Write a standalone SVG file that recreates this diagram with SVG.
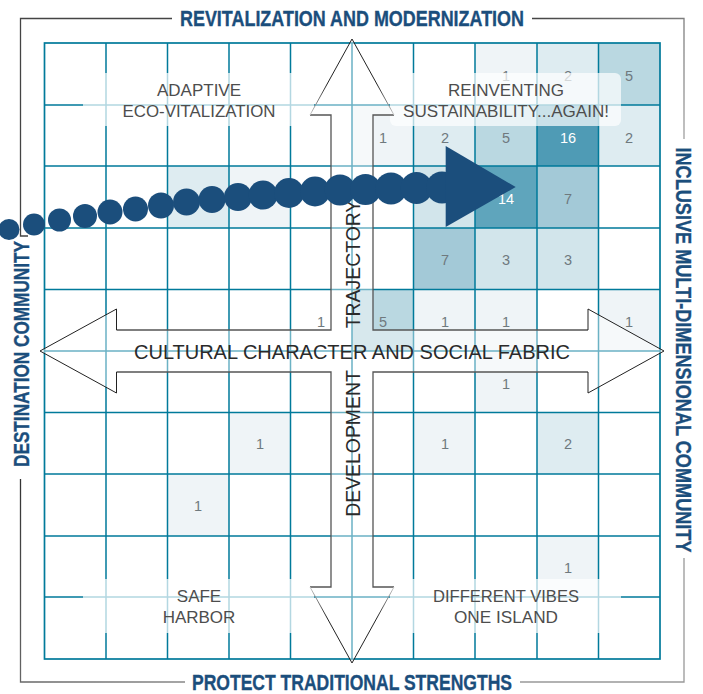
<svg xmlns="http://www.w3.org/2000/svg" width="703" height="694" viewBox="0 0 703 694">
<style>
text{font-family:"Liberation Sans",Arial,sans-serif}
.n{font-size:14.5px;fill:#6f797e;text-anchor:middle}
.w{fill:#fff}
.q{font-size:17px;fill:#4d4d4d;text-anchor:middle}
.h{font-family:"Liberation Sans Narrow","Liberation Sans",Arial,sans-serif;font-weight:bold;font-size:22.500px;fill:#1b4e7c;stroke:#1b4e7c;stroke-width:.35;text-anchor:middle}
.ax{font-size:19.800px;fill:#2a2a2a;text-anchor:middle}
.g{stroke:#007a9a;stroke-width:1.5;fill:none}
.f{fill:none;stroke-width:1.3}
.a{fill:none;stroke:#555;stroke-width:1.3}
.e{fill:none;stroke-width:1}
.c1{fill:#eff4f7}.c2{fill:#deecf1}.c3{fill:#d2e5eb}.c5{fill:#bad8e1}.c7{fill:#a3c9d7}.c14{fill:#5fa5bc}.c16{fill:#4f9bb5}
.b{fill:#fff;opacity:.7}
.d{fill:#1b4e7c}
</style>
<defs>
<linearGradient id="gTR" gradientUnits="userSpaceOnUse" x1="532" y1="18" x2="684" y2="139"><stop offset="0" stop-color="#444"/><stop offset="1" stop-color="#a0a0a0"/></linearGradient>
<linearGradient id="gBL" gradientUnits="userSpaceOnUse" x1="20" y1="479" x2="185" y2="682"><stop offset="0" stop-color="#333"/><stop offset="1" stop-color="#888"/></linearGradient>
<linearGradient id="e1" gradientUnits="userSpaceOnUse" x1="352" y1="39" x2="394" y2="115"><stop offset=".6" stop-color="#222"/><stop offset="1" stop-color="#ccc"/></linearGradient>
<linearGradient id="e2" gradientUnits="userSpaceOnUse" x1="352" y1="39" x2="310" y2="115"><stop offset=".6" stop-color="#222"/><stop offset="1" stop-color="#ccc"/></linearGradient>
<linearGradient id="e3" gradientUnits="userSpaceOnUse" x1="352" y1="663" x2="394" y2="587"><stop offset=".6" stop-color="#222"/><stop offset="1" stop-color="#ccc"/></linearGradient>
<linearGradient id="e4" gradientUnits="userSpaceOnUse" x1="352" y1="663" x2="310" y2="587"><stop offset=".6" stop-color="#222"/><stop offset="1" stop-color="#ccc"/></linearGradient>
</defs>

<g id="cells">
<rect class="c1" x="475" y="43" width="62" height="62"/>
<rect class="c2" x="537" y="43" width="61.500" height="62"/>
<rect class="c5" x="598.500" y="43" width="61.500" height="62"/>
<rect class="c1" x="352" y="105" width="61.500" height="61"/>
<rect class="c2" x="413.500" y="105" width="61.500" height="61"/>
<rect class="c5" x="475" y="105" width="62" height="61"/>
<rect class="c16" x="537" y="105" width="61.500" height="61"/>
<rect class="c2" x="598.500" y="105" width="61.500" height="61"/>
<rect class="c2" x="167.500" y="166" width="61.500" height="62"/>
<rect class="c1" x="229" y="166" width="61.500" height="62"/>
<rect class="c3" x="413.500" y="166" width="61.500" height="62"/>
<rect class="c14" x="475" y="166" width="62" height="62"/>
<rect class="c7" x="537" y="166" width="61.500" height="62"/>
<rect class="c7" x="413.500" y="228" width="61.500" height="61.500"/>
<rect class="c3" x="475" y="228" width="62" height="61.500"/>
<rect class="c3" x="537" y="228" width="61.500" height="61.500"/>
<rect class="c5" x="352" y="289.500" width="61.500" height="61.500"/>
<rect class="c1" x="413.500" y="289.500" width="61.500" height="61.500"/>
<rect class="c1" x="475" y="289.500" width="62" height="61.500"/>
<rect class="c1" x="598.500" y="289.500" width="61.500" height="61.500"/>
<rect class="c1" x="475" y="351" width="62" height="61.500"/>
<rect class="c1" x="229" y="412.500" width="61.500" height="61.500"/>
<rect class="c1" x="413.500" y="412.500" width="61.500" height="61.500"/>
<rect class="c2" x="537" y="412.500" width="61.500" height="61.500"/>
<rect class="c1" x="167.500" y="474" width="61.500" height="62"/>
<rect class="c1" x="537" y="536" width="61.500" height="61"/>
</g>

<g id="grid">
<path class="g" d="M106 43V659M167.500 43V659M229 43V659M290.500 43V659M352 43V659M413.500 43V659M475 43V659M537 43V659M598.500 43V659"/>
<path class="g" d="M44.500 105H660M44.500 166H660M44.500 228H660M44.500 289.500H660M44.500 351H660M44.500 412.500H660M44.500 474H660M44.500 536H660M44.500 597H660"/>
<rect class="g" x="44.500" y="43" width="615.500" height="616" style="stroke-width:1.700"/>
</g>

<g id="values">
<text class="n" x="506" y="81">1</text><text class="n" x="568" y="81">2</text><text class="n" x="629" y="81">5</text>
<text class="n" x="383" y="143">1</text><text class="n" x="445" y="143">2</text><text class="n" x="506" y="143">5</text><text class="n w" x="568" y="143">16</text><text class="n" x="629" y="143">2</text>
<text class="n w" x="506" y="204">14</text><text class="n" x="568" y="204">7</text>
<text class="n" x="445" y="265">7</text><text class="n" x="506" y="265">3</text><text class="n" x="568" y="265">3</text>
<text class="n" x="321" y="327">1</text><text class="n" x="383" y="327">5</text><text class="n" x="445" y="327">1</text><text class="n" x="506" y="327">1</text><text class="n" x="629" y="327">1</text>
<text class="n" x="506" y="389">1</text>
<text class="n" x="260" y="449">1</text><text class="n" x="445" y="449">1</text><text class="n" x="568" y="449">2</text>
<text class="n" x="198" y="511">1</text>
<text class="n" x="568" y="573">1</text>
</g>

<g id="quadrant-adaptive">
<rect class="b" x="83" y="73" width="231" height="53" rx="6"/>
<text class="q" x="199" y="96">ADAPTIVE</text>
<text class="q" x="199" y="117" textLength="153" lengthAdjust="spacingAndGlyphs">ECO-VITALIZATION</text>
</g>
<g id="quadrant-reinventing">
<rect class="b" x="390" y="73" width="231" height="53" rx="6"/>
<text class="q" x="506" y="96">REINVENTING</text>
<text class="q" x="506" y="117" textLength="206" lengthAdjust="spacingAndGlyphs">SUSTAINABILITY...AGAIN!</text>
</g>
<g id="quadrant-safe">
<rect class="b" x="83" y="579" width="231" height="54" rx="6"/>
<text class="q" x="199" y="602">SAFE</text>
<text class="q" x="199" y="623">HARBOR</text>
</g>
<g id="quadrant-vibes">
<rect class="b" x="390" y="579" width="231" height="54" rx="6"/>
<text class="q" x="506" y="602" textLength="146" lengthAdjust="spacingAndGlyphs">DIFFERENT VIBES</text>
<text class="q" x="506" y="623" textLength="104" lengthAdjust="spacingAndGlyphs">ONE ISLAND</text>
</g>

<g id="cross-arrow">
<path d="M352 39L394 115H373V330H588V309L664 351L588 393V372H373V587H394L352 663L310 587H331V372H116.500V393L40 351L116.500 309V330H331V115H310Z" fill="#fff" fill-opacity=".42"/>
<path class="a" d="M394 115H373V330H588M588 372H373V587H394M310 587H331V372H116.500M116.500 330H331V115H310"/>
<path class="e" stroke="#222" d="M588 330V309L664 351L588 393V372M116.500 372V393L40 351L116.500 309V330"/>
<path class="e" stroke="url(#e1)" d="M352 39L394 115"/>
<path class="e" stroke="url(#e2)" d="M352 39L310 115"/>
<path class="e" stroke="url(#e3)" d="M352 663L394 587"/>
<path class="e" stroke="url(#e4)" d="M352 663L310 587"/>
<text class="ax" x="352" y="359" textLength="436" lengthAdjust="spacingAndGlyphs">CULTURAL CHARACTER AND SOCIAL FABRIC</text>
<text class="ax" style="font-size:19.400px" transform="translate(360 443.500) rotate(-90)">DEVELOPMENT</text>
<text class="ax" style="font-size:19.400px" transform="translate(360 264) rotate(-90)">TRAJECTORY</text>
</g>

<g id="frame">
<path class="f" stroke="#444" d="M172 18.500H20.500V236H28"/>
<path class="f" stroke="url(#gTR)" d="M532 18.500H684V139"/>
<path class="f" stroke="url(#gBL)" d="M20.500 479V682H185"/>
<path class="f" stroke="#999" d="M520 682H684V558"/>
</g>

<g id="headings">
<text class="h" x="352" y="26" textLength="344" lengthAdjust="spacingAndGlyphs">REVITALIZATION AND MODERNIZATION</text>
<text class="h" x="352" y="690" textLength="320" lengthAdjust="spacingAndGlyphs">PROTECT TRADITIONAL STRENGTHS</text>
<text class="h" transform="translate(29 354) rotate(-90)" textLength="226" lengthAdjust="spacingAndGlyphs">DESTINATION COMMUNITY</text>
<text class="h" transform="translate(676 350) rotate(90)" textLength="405" lengthAdjust="spacingAndGlyphs">INCLUSIVE MULTI-DIMENSIONAL COMMUNITY</text>
</g>

<g id="trajectory">
<circle class="d" cx="9" cy="229.500" r="10.500"/><circle class="d" cx="34" cy="224.500" r="11"/><circle class="d" cx="59.500" cy="220" r="11.500"/><circle class="d" cx="85" cy="216" r="12"/><circle class="d" cx="110" cy="212" r="12.500"/><circle class="d" cx="135.500" cy="209" r="12.500"/><circle class="d" cx="161" cy="205.500" r="13"/><circle class="d" cx="186.500" cy="202" r="13.500"/><circle class="d" cx="212" cy="199.500" r="13.500"/><circle class="d" cx="238" cy="197" r="14"/><circle class="d" cx="263" cy="195" r="14.500"/><circle class="d" cx="289" cy="193" r="15"/><circle class="d" cx="315" cy="191.500" r="15"/><circle class="d" cx="340" cy="190" r="15.500"/><circle class="d" cx="365.500" cy="189.500" r="15.500"/><circle class="d" cx="391" cy="188.500" r="16"/><circle class="d" cx="416.500" cy="188" r="16"/><circle class="d" cx="442" cy="187.500" r="16"/>
<polygon class="d" points="445.700,146 515.700,187 445.700,227"/>
</g>
</svg>
